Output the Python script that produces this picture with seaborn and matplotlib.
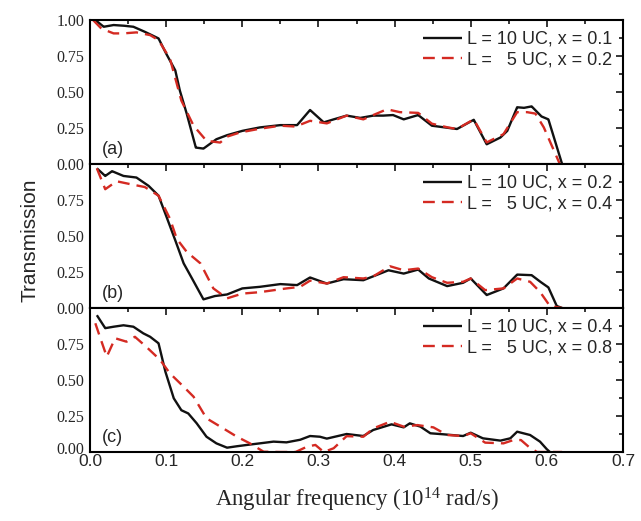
import numpy as np
import pandas as pd
import matplotlib
matplotlib.use("Agg")
import matplotlib.pyplot as plt
import matplotlib.transforms as mtransforms
import seaborn as sns
from matplotlib.ticker import MultipleLocator

# ---------------- data ----------------
xa_k = [0.007, 0.018, 0.031, 0.045, 0.057, 0.072, 0.090, 0.100, 0.112, 0.118, 0.127, 0.139, 0.149,
        0.166, 0.180, 0.200, 0.223, 0.250, 0.272, 0.289, 0.307, 0.320, 0.337, 0.355, 0.372, 0.385,
        0.398, 0.412, 0.431, 0.449, 0.466, 0.482, 0.504, 0.521, 0.539, 0.548, 0.561, 0.570, 0.580,
        0.593, 0.602, 0.620]
ya_k = [1.00, 0.953, 0.965, 0.960, 0.953, 0.918, 0.872, 0.767, 0.65, 0.51, 0.35, 0.114, 0.107,
        0.172, 0.20, 0.23, 0.254, 0.27, 0.27, 0.375, 0.289, 0.31, 0.336, 0.32, 0.336, 0.336,
        0.34, 0.31, 0.34, 0.266, 0.254, 0.243, 0.307, 0.137, 0.184, 0.23, 0.394, 0.39, 0.40,
        0.33, 0.31, 0.0]
xa_r = [0.004, 0.015, 0.031, 0.044, 0.061, 0.079, 0.090, 0.105, 0.120, 0.136, 0.153, 0.171, 0.180,
        0.197, 0.223, 0.250, 0.270, 0.289, 0.311, 0.337, 0.359, 0.372, 0.390, 0.407, 0.431, 0.449,
        0.470, 0.482, 0.504, 0.521, 0.543, 0.561, 0.574, 0.585, 0.596, 0.617]
ya_r = [1.0, 0.94, 0.907, 0.907, 0.914, 0.895, 0.86, 0.732, 0.44, 0.266, 0.161, 0.149, 0.19,
        0.219, 0.245, 0.266, 0.26, 0.30, 0.282, 0.336, 0.31, 0.34, 0.38, 0.36, 0.355, 0.28,
        0.254, 0.243, 0.31, 0.15, 0.207, 0.36, 0.36, 0.35, 0.254, 0.0]

xb_k = [0.009, 0.020, 0.029, 0.044, 0.061, 0.077, 0.090, 0.100, 0.112, 0.123, 0.134, 0.149, 0.164,
        0.180, 0.200, 0.223, 0.250, 0.272, 0.289, 0.311, 0.333, 0.359, 0.372, 0.392, 0.412, 0.431,
        0.445, 0.469, 0.490, 0.500, 0.521, 0.543, 0.561, 0.580, 0.592, 0.602, 0.613, 0.620]
yb_k = [0.97, 0.917, 0.95, 0.917, 0.906, 0.848, 0.78, 0.64, 0.47, 0.31, 0.205, 0.06, 0.083,
        0.094, 0.136, 0.147, 0.166, 0.159, 0.212, 0.17, 0.20, 0.193, 0.22, 0.262, 0.239, 0.267,
        0.205, 0.152, 0.175, 0.205, 0.09, 0.136, 0.232, 0.228, 0.18, 0.143, 0.014, 0.0]
xb_r = [0.009, 0.020, 0.035, 0.053, 0.072, 0.090, 0.105, 0.114, 0.127, 0.145, 0.162, 0.180, 0.200,
        0.223, 0.258, 0.276, 0.289, 0.311, 0.333, 0.359, 0.372, 0.394, 0.412, 0.431, 0.449, 0.469,
        0.490, 0.500, 0.519, 0.543, 0.561, 0.578, 0.591, 0.604, 0.620]
yb_r = [0.97, 0.825, 0.88, 0.86, 0.84, 0.78, 0.62, 0.48, 0.39, 0.31, 0.136, 0.067, 0.10,
        0.11, 0.136, 0.147, 0.19, 0.17, 0.214, 0.205, 0.22, 0.29, 0.262, 0.274, 0.214, 0.175,
        0.182, 0.205, 0.124, 0.136, 0.205, 0.182, 0.112, 0.014, 0.0]

xc_k = [0.009, 0.020, 0.031, 0.044, 0.057, 0.070, 0.079, 0.090, 0.099, 0.110, 0.120, 0.129, 0.140,
        0.153, 0.166, 0.180, 0.193, 0.206, 0.223, 0.241, 0.258, 0.276, 0.289, 0.302, 0.311, 0.337,
        0.359, 0.372, 0.396, 0.412, 0.420, 0.434, 0.447, 0.464, 0.490, 0.500, 0.516, 0.539, 0.552,
        0.561, 0.578, 0.591, 0.600, 0.604]
yc_k = [0.95, 0.86, 0.87, 0.88, 0.87, 0.824, 0.80, 0.755, 0.558, 0.373, 0.29, 0.268, 0.20,
        0.106, 0.06, 0.03, 0.04, 0.049, 0.06, 0.072, 0.067, 0.085, 0.111, 0.106, 0.093, 0.125,
        0.111, 0.153, 0.192, 0.171, 0.199, 0.176, 0.13, 0.123, 0.111, 0.134, 0.095, 0.079, 0.095,
        0.141, 0.118, 0.072, 0.019, 0.0]
xc_r = [0.007, 0.013, 0.022, 0.033, 0.048, 0.059, 0.074, 0.092, 0.105, 0.123, 0.136, 0.153, 0.175,
        0.193, 0.210, 0.228, 0.250, 0.270, 0.285, 0.296, 0.307, 0.320, 0.337, 0.359, 0.372, 0.394,
        0.412, 0.430, 0.451, 0.469, 0.490, 0.500, 0.519, 0.543, 0.556, 0.566, 0.576, 0.587, 0.620]
yc_r = [0.894, 0.80, 0.662, 0.79, 0.766, 0.80, 0.73, 0.64, 0.546, 0.453, 0.384, 0.234, 0.164,
        0.106, 0.06, 0.002, 0.0, 0.0, 0.037, 0.049, 0.0, 0.026, 0.11, 0.106, 0.164, 0.21,
        0.176, 0.187, 0.171, 0.118, 0.111, 0.13, 0.065, 0.06, 0.083, 0.083, 0.037, 0.0, 0.0]

panel_labels = ["(a)", "(b)", "(c)"]
legend_k = ["L = 10 UC, x = 0.1", "L = 10 UC, x = 0.2", "L = 10 UC, x = 0.4"]
legend_r = ["L =   5 UC, x = 0.2", "L =   5 UC, x = 0.4", "L =   5 UC, x = 0.8"]
xticks = [0.0, 0.1, 0.2, 0.3, 0.4, 0.5, 0.6, 0.7]
yticks = [0.0, 0.25, 0.5, 0.75, 1.0]

panels = [(xa_k, ya_k, xa_r, ya_r), (xb_k, yb_k, xb_r, yb_r), (xc_k, yc_k, xc_r, yc_r)]

# ---------------- style ----------------
sns.set_style("white")
plt.rcParams["font.family"] = ["Liberation Sans", "DejaVu Sans"]
plt.rcParams["mathtext.fontset"] = "custom"
plt.rcParams["mathtext.rm"] = "Liberation Serif"
plt.rcParams["mathtext.it"] = "Liberation Serif:italic"
plt.rcParams["mathtext.bf"] = "Liberation Serif:bold"

BLACK = "#111111"
RED = "#d42a22"

fig = plt.figure(figsize=(6.41, 5.21), dpi=100)
left, right = 90 / 641, 623 / 641
top_px, h_px = 20, 144

axes = []
for i, (xk, yk, xr, yr) in enumerate(panels):
    y0 = 1 - (top_px + (i + 1) * h_px) / 521
    ax = fig.add_axes([left, y0, right - left, h_px / 521])
    axes.append(ax)
    df = pd.concat([
        pd.DataFrame({"x": xk, "y": yk, "s": legend_k[i]}),
        pd.DataFrame({"x": xr, "y": yr, "s": legend_r[i]}),
    ])
    sns.lineplot(data=df, x="x", y="y", hue="s", style="s",
                 palette=[BLACK, RED], dashes=[(1, 0), (5, 3)],
                 linewidth=1.7, ax=ax, estimator=None, sort=False)
    ax.set_xlim(0, 0.7)
    ax.set_ylim(0, 1.0)
    ax.set_xlabel("")
    ax.set_ylabel("")
    ax.set_xticks(xticks)
    ax.set_yticks(yticks)
    ax.xaxis.set_minor_locator(MultipleLocator(0.05))
    ax.yaxis.set_minor_locator(MultipleLocator(0.125))
    ax.tick_params(which="both", direction="in", top=True, right=True, width=1.3)
    ax.tick_params(which="major", length=5)
    ax.tick_params(which="minor", length=3)
    for sp in ax.spines.values():
        sp.set_linewidth(1.5)
        sp.set_color("black")
    ylabels = ["0.00", "0.25", "0.50", "0.75", "1.00" if i == 0 else ""]
    ax.set_yticklabels(ylabels, fontfamily="Liberation Serif", fontsize=11.5)
    if i < 2:
        ax.set_xticklabels([])
    else:
        ax.set_xticklabels([f"{t:.1f}" for t in xticks], fontfamily="Liberation Sans", fontsize=12.5)
    ax.tick_params(axis="x", pad=1.5)
    ax.tick_params(axis="y", pad=4)
    ax.legend(loc="upper right", frameon=False, fontsize=13, handlelength=2.2,
              handletextpad=0.25, labelspacing=0.22, borderaxespad=0.2)
    ax.text(0.022, (163 - 148) / 144, panel_labels[i], transform=ax.transAxes, fontsize=13,
            ha="left", va="center")

# nudge the lowest "0.00" label up slightly, as in the original where it sits just above "0.0"
lbl = axes[2].get_yticklabels()[0]
lbl.set_transform(lbl.get_transform() + mtransforms.ScaledTranslation(0, 3 / 72, fig.dpi_scale_trans))

fig.text(357 / 641, 1 - 500 / 521, r"Angular frequency (10$^{\mathrm{14}}$ rad/s)",
         fontfamily="Liberation Serif", fontsize=16.5, ha="center", va="center")
fig.text(30 / 641, 1 - 240 / 521, "Transmission", rotation=90,
         fontsize=15, ha="center", va="center")

fig.savefig("out.png", dpi=100)
